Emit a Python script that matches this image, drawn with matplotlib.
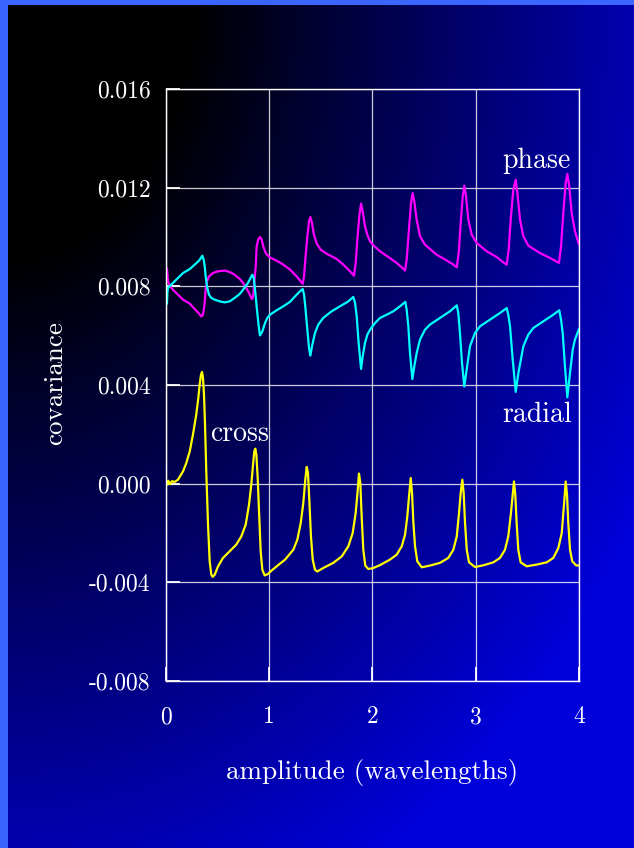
import numpy as np
import matplotlib
matplotlib.use("Agg")
import matplotlib.pyplot as plt

plt.rcParams["font.family"] = ["cmr10", "DejaVu Serif"]
plt.rcParams["axes.unicode_minus"] = False
plt.rcParams["axes.formatter.use_mathtext"] = True

# ---- data (covariance values are given in units of 1e-4) -------------
SCALE = 1e-4

phase_x = [0.003, 0.010, 0.019, 0.042, 0.068, 0.116, 0.165, 0.230, 0.278, 0.310,
           0.342, 0.358, 0.371, 0.384, 0.397, 0.416, 0.455, 0.504, 0.569, 0.617,
           0.665, 0.714, 0.746, 0.778, 0.804, 0.826, 0.836, 0.846, 0.855, 0.869,
           0.878, 0.894, 0.910, 0.927, 0.942, 0.969, 1.007, 1.072, 1.136, 1.201,
           1.266, 1.305, 1.324, 1.337, 1.349, 1.369, 1.385, 1.398, 1.414, 1.433,
           1.460, 1.498, 1.556, 1.653, 1.717, 1.782, 1.821, 1.837, 1.853, 1.872,
           1.889, 1.905, 1.927, 1.950, 1.976, 2.024, 2.073, 2.153, 2.234, 2.283,
           2.315, 2.331, 2.353, 2.373, 2.389, 2.405, 2.428, 2.460, 2.508, 2.622,
           2.719, 2.783, 2.816, 2.835, 2.854, 2.874, 2.889, 2.906, 2.928, 2.961,
           3.009, 3.106, 3.203, 3.267, 3.300, 3.319, 3.341, 3.364, 3.387, 3.403,
           3.429, 3.461, 3.509, 3.622, 3.719, 3.784, 3.806, 3.826, 3.848, 3.871,
           3.887, 3.906, 3.929, 3.961, 4.000]
phase_y = [87.6, 87.0, 82.0, 80.0, 78.6, 76.6, 74.6, 73.0, 70.8, 69.4,
           67.8, 68.5, 71.9, 78.6, 82.0, 84.0, 85.4, 86.1, 86.4, 85.8,
           84.7, 83.0, 81.4, 79.3, 77.3, 75.3, 74.9, 76.6, 81.4, 88.1,
           96.2, 99.2, 100.0, 98.9, 96.2, 93.2, 91.7, 90.4, 88.8, 86.8,
           84.0, 82.0, 81.0, 84.0, 90.8, 100.3, 106.3, 108.1, 105.7, 100.9,
           97.3, 94.9, 93.2, 91.1, 88.8, 86.1, 84.3, 89.5, 98.9, 108.4,
           113.5, 110.4, 104.3, 100.9, 98.2, 96.0, 94.2, 91.9, 89.5, 87.7,
           86.4, 90.8, 103.0, 113.8, 117.8, 114.4, 107.0, 100.3, 96.9, 92.8,
           90.5, 88.8, 87.7, 93.5, 105.7, 116.5, 120.8, 116.5, 107.0, 100.9,
           97.6, 94.2, 91.9, 89.7, 88.8, 94.9, 108.4, 119.2, 123.2, 117.8,
           107.0, 100.3, 96.5, 93.5, 91.5, 90.0, 89.5, 96.2, 109.7, 121.9,
           125.6, 120.5, 109.7, 102.3, 96.9]

radial_x = [0.003, 0.010, 0.013, 0.019, 0.042, 0.068, 0.116, 0.165, 0.230, 0.278,
            0.320, 0.352, 0.365, 0.375, 0.384, 0.397, 0.416, 0.439, 0.472, 0.520,
            0.569, 0.617, 0.665, 0.714, 0.746, 0.794, 0.836, 0.849, 0.859, 0.872,
            0.881, 0.898, 0.910, 0.933, 0.959, 0.981, 1.007, 1.072, 1.136, 1.201,
            1.249, 1.298, 1.324, 1.337, 1.349, 1.369, 1.385, 1.398, 1.414, 1.443,
            1.475, 1.523, 1.605, 1.685, 1.766, 1.814, 1.831, 1.847, 1.866, 1.889,
            1.905, 1.927, 1.950, 1.976, 2.024, 2.073, 2.138, 2.202, 2.266, 2.318,
            2.331, 2.347, 2.363, 2.386, 2.405, 2.428, 2.460, 2.508, 2.557, 2.654,
            2.751, 2.816, 2.831, 2.847, 2.867, 2.889, 2.912, 2.944, 2.993, 3.041,
            3.138, 3.235, 3.300, 3.315, 3.332, 3.358, 3.387, 3.413, 3.461, 3.509,
            3.557, 3.654, 3.751, 3.809, 3.826, 3.842, 3.864, 3.887, 3.913, 3.939,
            3.961, 4.000]
radial_y = [72.6, 73.3, 77.3, 79.3, 80.3, 81.4, 83.4, 85.4, 87.0, 88.8,
            90.4, 92.4, 90.8, 88.1, 84.0, 80.0, 76.6, 75.3, 74.6, 73.9,
            73.5, 73.9, 75.3, 76.9, 78.6, 81.4, 84.7, 83.4, 80.0, 74.6,
            70.5, 63.8, 60.1, 61.7, 65.1, 67.2, 68.5, 70.3, 71.9, 73.7,
            75.9, 78.0, 78.9, 76.6, 71.9, 62.4, 55.0, 51.9, 55.7, 61.1,
            64.5, 67.2, 69.9, 71.9, 73.9, 75.7, 73.3, 67.8, 57.0, 46.5,
            51.6, 57.0, 60.4, 62.4, 65.1, 67.2, 68.5, 69.9, 71.9, 73.7,
            70.5, 63.8, 53.0, 42.4, 47.6, 53.0, 58.4, 62.4, 64.5, 67.2,
            69.9, 72.3, 69.2, 61.1, 48.9, 39.4, 46.2, 55.7, 61.1, 63.8,
            66.5, 69.2, 71.2, 68.5, 63.8, 50.3, 37.2, 44.9, 55.7, 60.4,
            63.1, 65.8, 68.5, 70.3, 66.5, 61.1, 47.6, 35.0, 44.9, 54.3,
            58.4, 62.7]

cross_x = [0.000, 0.010, 0.022, 0.039, 0.058, 0.084, 0.116, 0.165, 0.197, 0.230,
           0.261, 0.293, 0.313, 0.326, 0.339, 0.349, 0.358, 0.368, 0.378, 0.390,
           0.407, 0.423, 0.439, 0.452, 0.472, 0.504, 0.552, 0.617, 0.681, 0.729,
           0.772, 0.804, 0.826, 0.843, 0.855, 0.865, 0.875, 0.888, 0.901, 0.917,
           0.933, 0.956, 0.988, 1.020, 1.072, 1.153, 1.233, 1.272, 1.305, 1.330,
           1.349, 1.363, 1.375, 1.388, 1.404, 1.421, 1.443, 1.465, 1.523, 1.620,
           1.702, 1.766, 1.808, 1.837, 1.856, 1.869, 1.882, 1.895, 1.911, 1.930,
           1.959, 2.008, 2.073, 2.169, 2.234, 2.283, 2.315, 2.337, 2.354, 2.370,
           2.383, 2.396, 2.412, 2.434, 2.477, 2.557, 2.654, 2.734, 2.783, 2.816,
           2.838, 2.854, 2.870, 2.883, 2.896, 2.913, 2.935, 2.993, 3.073, 3.170,
           3.235, 3.283, 3.315, 3.341, 3.358, 3.370, 3.383, 3.396, 3.412, 3.435,
           3.493, 3.590, 3.687, 3.751, 3.800, 3.833, 3.848, 3.862, 3.871, 3.884,
           3.896, 3.913, 3.935, 3.971, 4.000]
cross_y = [1.0, -0.4, 1.2, -0.2, 1.0, 0.7, 1.6, 5.0, 8.4, 13.1,
           19.9, 28.0, 34.7, 40.1, 44.2, 45.3, 42.9, 36.1, 23.9, 5.0,
           -16.6, -31.5, -36.9, -37.8, -36.9, -33.5, -30.1, -27.4, -24.7, -21.4,
           -16.6, -8.5, -0.4, 7.7, 13.1, 14.2, 11.8, 2.3, -11.2, -27.4,
           -34.9, -37.2, -36.6, -35.3, -33.5, -30.8, -26.8, -22.7, -15.9, -7.8,
           1.6, 6.8, 4.3, -6.5, -21.4, -30.8, -34.9, -35.6, -34.2, -32.1,
           -29.5, -25.4, -20.0, -11.9, -3.1, 4.1, 0.3, -13.3, -26.8, -33.2,
           -34.6, -34.2, -33.0, -30.8, -28.8, -25.4, -20.7, -13.3, -5.1, 2.3,
           -3.8, -15.9, -25.4, -31.5, -33.9, -33.2, -32.1, -30.1, -26.8, -21.4,
           -11.9, -3.8, 1.6, -3.8, -15.9, -26.8, -31.9, -33.8, -33.1, -31.9,
           -30.1, -26.8, -21.4, -11.9, -4.5, 0.9, -4.5, -15.9, -26.8, -31.9,
           -33.5, -32.8, -31.9, -30.1, -26.1, -20.0, -11.9, -4.5, 0.9, -4.5,
           -15.9, -26.8, -31.5, -33.1, -33.2]

x_ticks = [0, 1, 2, 3, 4]
x_tick_labels = ["0", "1", "2", "3", "4"]
y_ticks = [0.016, 0.012, 0.008, 0.004, 0.0, -0.004, -0.008]
y_tick_labels = ["0.016", "0.012", "0.008", "0.004", "0.000", "-0.004", "-0.008"]

# ---- figure & background ---------------------------------------------
W, H = 634, 848
fig = plt.figure(figsize=(W / 100, H / 100), dpi=100)

bg = fig.add_axes([0, 0, 1, 1], zorder=0)
yy, xx = np.mgrid[0:H, 0:W]
r = np.sqrt((xx / W) ** 2 + (yy / H) ** 2)
blue = np.clip(250 * (r - 0.3), 0, 218) / 255.0
img = np.zeros((H, W, 3))
img[..., 2] = blue
# light blue frame strips on the left and top edges
img[:, :8, :] = (0x3a / 255, 0x66 / 255, 1.0)
img[:5, :, :] = (0x3a / 255, 0x66 / 255, 1.0)
bg.imshow(img, extent=[0, 1, 0, 1], aspect="auto", interpolation="nearest")
bg.set_axis_off()

ax = fig.add_axes([166 / W, 1 - 681 / H, (579 - 166) / W, (681 - 89) / H], zorder=1)
ax.set_facecolor("none")

line_kw = dict(lw=1.6, solid_joinstyle="round", solid_capstyle="round")
ax.plot(phase_x, np.array(phase_y) * SCALE, color="#ff00ff", **line_kw)
ax.plot(radial_x, np.array(radial_y) * SCALE, color="#00ffff", **line_kw)
ax.plot(cross_x, np.array(cross_y) * SCALE, color="#ffff00", **line_kw)

ax.set_xlim(0, 4)
ax.set_ylim(-0.008, 0.016)
ax.set_xticks(x_ticks)
ax.set_xticklabels(x_tick_labels)
ax.set_yticks(y_ticks)
ax.set_yticklabels(y_tick_labels)

ax.grid(True, color="white", lw=0.9, alpha=0.8)
for s in ax.spines.values():
    s.set_color("white")
    s.set_linewidth(1.0)
ax.tick_params(axis="both", direction="in", length=10, width=1.3, color="white",
               labelcolor="white", labelsize=17)
ax.tick_params(axis="y", pad=11)
ax.tick_params(axis="x", pad=18)

txt = dict(color="white", fontsize=20)
ax.text(3.254, 0.01281, "phase", ha="left", va="baseline", **txt)
ax.text(3.254, 0.00251, "radial", ha="left", va="baseline", **txt)
ax.text(0.423, 0.00174, "cross", ha="left", va="baseline", **txt)

fig.text(372 / W, 1 - 773 / H, "amplitude (wavelengths)", ha="center", va="center",
         color="white", fontsize=19.5)
fig.text(55 / W, 1 - 383 / H, "covariance", ha="center", va="center", rotation=90,
         color="white", fontsize=19.5)

fig.savefig("out.png", dpi=100)
